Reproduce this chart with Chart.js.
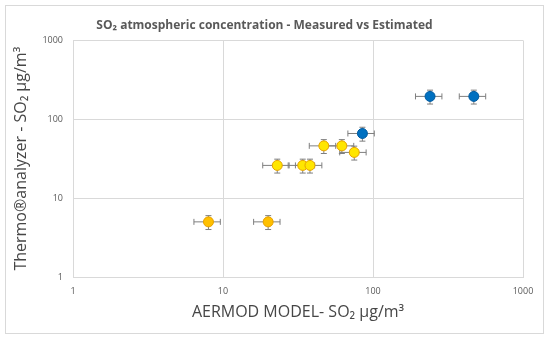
<!DOCTYPE html>
<html>
<head>
<meta charset="utf-8">
<script src="https://cdn.jsdelivr.net/npm/chart.js@4/dist/chart.umd.min.js"></script>
<style>
  html,body{margin:0;padding:0;background:#fff;}
  #wrap{width:550px;height:340px;}
</style>
</head>
<body>
<div id="wrap"><canvas id="so2Chart" width="550" height="340"></canvas></div>
<script>
// SO2 — mesuré (Thermo) vs estimé (AERMOD), échelle log-log
const titleText = 'SO\u2082 atmospheric concentration - Measured vs Estimated';
const xTitle = 'AERMOD MODEL- SO\u2082 \u00b5g/m\u00b3';
const yTitle = 'Thermo\u00aeanalyzer - SO\u2082 \u00b5g/m\u00b3';
const axisTicks = [1, 10, 100, 1000];

// série 1 (or)
const goldModel = [8, 20];
const goldMeasured = [5, 5];
// série 2 (jaune)
const yellowModel = [23, 34, 38, 47, 62, 75];
const yellowMeasured = [26, 26, 26, 46, 46, 38];
// série 3 (bleu)
const blueModel = [85, 240, 470];
const blueMeasured = [66, 195, 195];
// barres d'erreur en pourcentage (Excel)
const errPct = 0.2;

const pts = (xs, ys) => xs.map((x, i) => ({ x, y: ys[i] }));
const textCol = '#595959', axisTitleCol = '#464646', gridCol = '#d9d9d9';

const errorBars = {
  id: 'errorBars',
  beforeDatasetsDraw(chart){
    const { ctx, scales:{ x, y } } = chart;
    ctx.save();
    ctx.strokeStyle = '#7f7f7f'; ctx.lineWidth = 1;
    chart.data.datasets.forEach(ds => ds.data.forEach(p => {
      const cx = x.getPixelForValue(p.x), cy = y.getPixelForValue(p.y);
      const x0 = x.getPixelForValue(p.x*(1-errPct)), x1 = x.getPixelForValue(p.x*(1+errPct));
      const y0 = y.getPixelForValue(p.y*(1-errPct)), y1 = y.getPixelForValue(p.y*(1+errPct));
      ctx.beginPath();
      ctx.moveTo(x0, cy); ctx.lineTo(x1, cy);
      ctx.moveTo(x0, cy-3); ctx.lineTo(x0, cy+3);
      ctx.moveTo(x1, cy-3); ctx.lineTo(x1, cy+3);
      ctx.moveTo(cx, y0); ctx.lineTo(cx, y1);
      ctx.moveTo(cx-3, y0); ctx.lineTo(cx+3, y0);
      ctx.moveTo(cx-3, y1); ctx.lineTo(cx+3, y1);
      ctx.stroke();
    }));
    ctx.restore();
  }
};

const frame = {
  id: 'frame',
  beforeDraw(chart){
    const ctx = chart.ctx;
    ctx.save();
    ctx.strokeStyle = gridCol; ctx.lineWidth = 1;
    ctx.strokeRect(5.5, 5.5, 538, 328);
    ctx.restore();
  }
};

const logAxis = (title, extra) => Object.assign({
  type: 'logarithmic', min: 1, max: 1000,
  afterBuildTicks: s => { s.ticks = axisTicks.map(v => ({ value: v })); },
  ticks: { color: textCol, font: { family: 'Open Sans', size: 9 }, callback: v => String(v), autoSkip: false, maxRotation: 0 },
  grid: { color: gridCol, drawTicks: false },
  border: { color: gridCol },
  title: { display: true, text: title, color: axisTitleCol, font: { family: 'Open Sans', size: 16 } }
}, extra);

new Chart(document.getElementById('so2Chart'), {
  type: 'scatter',
  data: { datasets: [
    { label: 'gold', data: pts(goldModel, goldMeasured), backgroundColor: '#FFC000', borderColor: '#E6A100', borderWidth: 1, pointRadius: 5 },
    { label: 'yellow', data: pts(yellowModel, yellowMeasured), backgroundColor: '#FFE600', borderColor: '#E6A100', borderWidth: 1, pointRadius: 5 },
    { label: 'blue', data: pts(blueModel, blueMeasured), backgroundColor: '#0070C0', borderColor: '#005A9E', borderWidth: 1, pointRadius: 5 }
  ] },
  options: {
    responsive: false, animation: false,
    layout: { padding: { left: 6, right: 27, top: 0, bottom: 0 } },
    plugins: {
      legend: { display: false }, tooltip: { enabled: false },
      title: { display: true, text: titleText, color: textCol, font: { family: 'Open Sans', size: 12, weight: 'bold' }, padding: { top: 18, bottom: 8 } }
    },
    scales: {
      x: logAxis(xTitle, { afterFit: s => { s.height = 63; } }),
      y: logAxis(yTitle, { afterFit: s => { s.width = 67; } })
    }
  },
  plugins: [frame, errorBars]
});
// padding des ticks / titres
const ch = Chart.getChart('so2Chart');
ch.options.scales.x.ticks.padding = 9;
ch.options.scales.y.ticks.padding = 10;
ch.options.scales.x.title.padding = { top: 4, bottom: 18 };
ch.options.scales.y.title.padding = { top: 6, bottom: 0 };
ch.update();
</script>
</body>
</html>
